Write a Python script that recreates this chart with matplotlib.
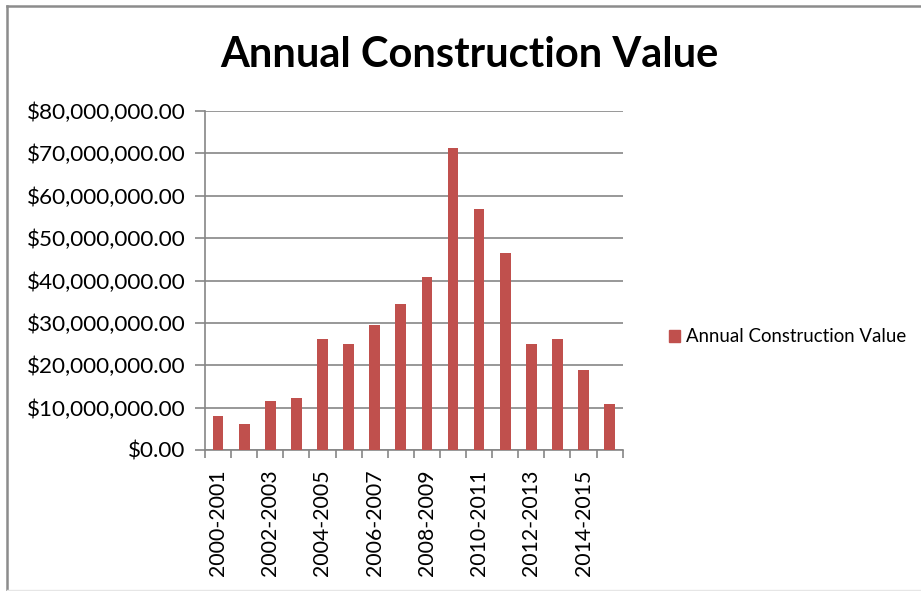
import matplotlib
matplotlib.use("Agg")
import matplotlib.pyplot as plt
from matplotlib.ticker import FuncFormatter, FixedLocator
from matplotlib.patches import Rectangle
from matplotlib.lines import Line2D

categories = ["2000-2001", "2001-2002", "2002-2003", "2003-2004", "2004-2005",
              "2005-2006", "2006-2007", "2007-2008", "2008-2009", "2009-2010",
              "2010-2011", "2011-2012", "2012-2013", "2013-2014", "2014-2015",
              "2015-2016"]
values = [8.0e6, 6.2e6, 11.65e6, 12.2e6, 26.3e6, 25.0e6, 29.45e6, 34.4e6,
          40.9e6, 71.2e6, 56.85e6, 46.4e6, 24.95e6, 26.1e6, 18.9e6, 10.8e6]
series_name = "Annual Construction Value"
title = "Annual Construction Value"

plt.rcParams['font.family'] = ['Lato', 'DejaVu Sans']

fig = plt.figure(figsize=(9.21, 5.91), dpi=100)
ax = fig.add_axes([205/921, 1-450/591, (622.7-205)/921, (450-111)/591])

bar_color = "#C0504D"
grid_color = "#868686"
x = list(range(len(categories)))
ax.bar(x, values, width=0.41, color=bar_color, zorder=3, label=series_name)

ax.set_xlim(-0.5, len(categories) - 0.5)
ax.set_ylim(0, 80e6)
ax.set_yticks([i * 10e6 for i in range(9)])
ax.yaxis.set_major_formatter(FuncFormatter(lambda v, p: "${:,.2f}".format(v)))
ax.grid(axis='y', color=grid_color, linewidth=1.2, zorder=0)

# x ticks: marks at category boundaries, labels on every other category
ax.xaxis.set_major_locator(FixedLocator([i - 0.5 for i in range(len(categories) + 1)]))
ax.xaxis.set_major_formatter(FuncFormatter(lambda v, p: ""))
ax.set_xticks(x[::2], minor=True)
ax.set_xticklabels(categories[::2], minor=True, rotation=90, fontsize=15.3)
ax.tick_params(axis='x', which='minor', length=0, pad=14)
ax.tick_params(axis='x', which='major', length=6, width=1.2, color=grid_color, direction='out')
ax.tick_params(axis='y', length=7, width=1.2, color=grid_color, labelsize=16.2, pad=7)

for s in ['top', 'right']:
    ax.spines[s].set_visible(False)
for s in ['left', 'bottom']:
    ax.spines[s].set_color(grid_color)
    ax.spines[s].set_linewidth(1.2)

fig.text(469/921, 1-55/591, title, ha='center', va='center', fontsize=30, fontweight='bold')

# legend
fig.legend(handles=[Rectangle((0, 0), 1, 1, color=bar_color)], labels=[series_name],
           loc='center left', bbox_to_anchor=(652/921, 1-337/591), frameon=False,
           fontsize=13.4, handlelength=0.6, handleheight=0.6, handletextpad=0.35)

# chart border
fig.add_artist(Line2D([6.5/921, 6.5/921], [0, 1-5.5/591], transform=fig.transFigure, color="#8c8c8c", lw=1.8))
fig.add_artist(Line2D([6.5/921, 1], [1-5.5/591, 1-5.5/591], transform=fig.transFigure, color="#8c8c8c", lw=1.8))
fig.add_artist(Line2D([6.5/921, 1], [0.8/591, 0.8/591], transform=fig.transFigure, color="#e6e6e6", lw=1))

fig.savefig("out.png", dpi=100, facecolor="white")
